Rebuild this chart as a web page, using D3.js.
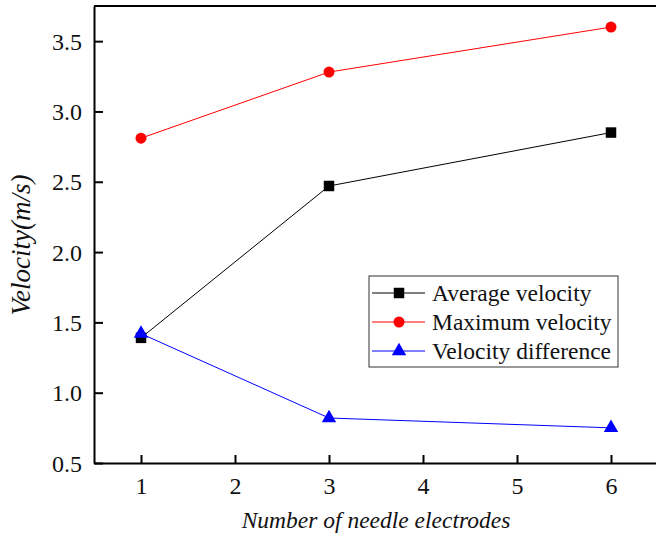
<!DOCTYPE html>
<html>
<head>
<meta charset="utf-8">
<script src="https://cdn.jsdelivr.net/npm/d3@7"></script>
<style>
body { margin: 0; background: #fff; }
text { font-family: "Liberation Serif", "Times New Roman", serif; }
</style>
</head>
<body>
<svg id="board" width="656" height="534"></svg>
<script>
// data
electrodes = [1, 3, 6];
avgVelocity = [1.39, 2.47, 2.85];
maxVelocity = [2.81, 3.28, 3.60];
diffVelocity = [1.42, 0.82, 0.75];
xTicks = [1, 2, 3, 4, 5, 6];
yTicks = [0.5, 1.0, 1.5, 2.0, 2.5, 3.0, 3.5];
seriesNames = ['Average velocity', 'Maximum velocity', 'Velocity difference'];
seriesColors = ['#000000', '#ff0000', '#0000ff'];
seriesShapes = [d3.symbolSquare, d3.symbolCircle, d3.symbolTriangle];
seriesSizes = [110, 95, 90];

board = d3.select('#board');

plotLeft = 94; plotRight = 658; plotTop = 6; plotBottom = 463;

x = d3.scaleLinear().domain([0.5, 6.5]).range([plotLeft, plotRight]);
y = d3.scaleLinear().domain([0.5, 3.75]).range([plotBottom, plotTop]);

// axes with inward ticks
xAxis = board.append('g')
    .attr('transform', `translate(0,${plotBottom})`)
    .call(d3.axisBottom(x).tickValues(xTicks).tickFormat(d3.format('d'))
        .tickSizeInner(-8).tickSizeOuter(0).tickPadding(14));
yAxis = board.append('g')
    .attr('transform', `translate(${plotLeft},0)`)
    .call(d3.axisLeft(y).tickValues(yTicks).tickFormat(d3.format('.1f'))
        .tickSizeInner(-9).tickSizeOuter(0).tickPadding(12));

[xAxis, yAxis].forEach(function(a){
    a.select('.domain').attr('stroke', '#000').attr('stroke-width', 2);
    a.selectAll('.tick line').attr('stroke', '#000').attr('stroke-width', 2);
    a.selectAll('.tick text')
        .attr('fill', '#111')
        .style('font-family', '"Liberation Serif", serif')
        .style('font-size', '24px');
});
xAxis.selectAll('.tick text').attr('dy', '0.71em');
yAxis.selectAll('.tick text').attr('dy', '0.34em');

// top frame line
board.append('line')
    .attr('x1', plotLeft).attr('y1', plotTop)
    .attr('x2', plotRight).attr('y2', plotTop)
    .attr('stroke', '#000').attr('stroke-width', 2);

// axis titles
board.append('text')
    .attr('x', 376)
    .attr('y', 528)
    .attr('text-anchor', 'middle')
    .style('font-style', 'italic')
    .style('font-size', '23.5px')
    .attr('fill', '#111')
    .text('Number of needle electrodes');

board.append('text')
    .attr('transform', 'translate(30,245) rotate(-90)')
    .attr('text-anchor', 'middle')
    .style('font-style', 'italic')
    .style('font-size', '27px')
    .attr('fill', '#111')
    .text('Velocity(m/s)');

allSeries = [avgVelocity, maxVelocity, diffVelocity];

line = d3.line()
    .x(function(d, i){ return x(electrodes[i]); })
    .y(function(d){ return y(d); });

allSeries.forEach(function(vals, s){
    board.append('path')
        .attr('d', line(vals))
        .attr('fill', 'none')
        .attr('stroke', seriesColors[s])
        .attr('stroke-width', 1);
});

allSeries.forEach(function(vals, s){
    board.selectAll(null)
        .data(vals)
        .enter()
        .append('path')
        .attr('d', d3.symbol().type(seriesShapes[s]).size(seriesSizes[s]))
        .attr('transform', function(d, i){ return `translate(${x(electrodes[i])},${y(d)})`; })
        .attr('fill', seriesColors[s]);
});

// legend
legend = board.append('g').attr('transform', 'translate(369,276)');
legend.append('rect')
    .attr('width', 249).attr('height', 91)
    .attr('fill', '#fff')
    .attr('stroke', '#333').attr('stroke-width', 1);

seriesNames.forEach(function(name, s){
    rowY = 17 + s * 29;
    legend.append('line')
        .attr('x1', 3).attr('x2', 56)
        .attr('y1', rowY).attr('y2', rowY)
        .attr('stroke', seriesColors[s]).attr('stroke-width', 1);
    legend.append('path')
        .attr('d', d3.symbol().type(seriesShapes[s]).size(seriesSizes[s]))
        .attr('transform', `translate(30,${rowY})`)
        .attr('fill', seriesColors[s]);
    legend.append('text')
        .attr('x', 63)
        .attr('y', rowY)
        .attr('dy', '0.35em')
        .style('font-size', '23.5px')
        .attr('fill', '#111')
        .text(name);
});
</script>
</body>
</html>
